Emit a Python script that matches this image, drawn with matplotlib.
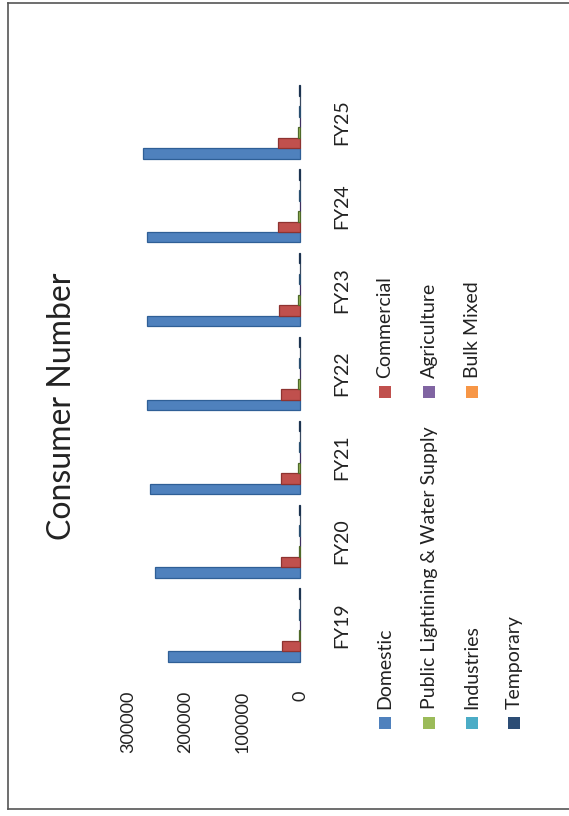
import matplotlib.pyplot as plt
import numpy as np
from matplotlib.lines import Line2D
from matplotlib.patches import Rectangle

plt.rcParams['font.family'] = ['Lato', 'DejaVu Sans']

years = ["FY19", "FY20", "FY21", "FY22", "FY23", "FY24", "FY25"]
domestic = [230000, 253000, 262000, 267000, 267000, 266000, 274000]
commercial = [32000, 34000, 34000, 34000, 37000, 39000, 39000]
public_lighting = [2500, 2600, 2700, 2800, 2900, 3000, 3100]
agriculture = [400, 400, 420, 430, 440, 450, 460]
industries = [2200, 2250, 2300, 2350, 2400, 2450, 2500]
bulk_mixed = [600, 600, 620, 630, 640, 650, 660]
temporary = [2000, 1900, 2100, 2000, 2200, 2100, 2300]

series = [
    ("Domestic", domestic, "#4F81BD", "#2f5f96"),
    ("Commercial", commercial, "#C0504D", "#8e3330"),
    ("Public Lightining & Water Supply", public_lighting, "#9BBB59", "#4f6a2a"),
    ("Agriculture", agriculture, "#8064A2", "#3f3060"),
    ("Industries", industries, "#4BACC6", "#2a4f70"),
    ("Bulk Mixed", bulk_mixed, "#F79646", "#3a4a60"),
    ("Temporary", temporary, "#2C4D75", "#1c3350"),
]

W, H = 569, 816
fig = plt.figure(figsize=(W / 100, H / 100), dpi=100)

def fx(px):
    return px / W

def fy(py):
    return 1 - py / H

# chart is laid on its side: categories run upward, values run leftward
ax = fig.add_axes([fx(128), fy(667), fx(300) - fx(128), fy(80) - fy(667)])
y = np.arange(len(years))
bh = 0.125
for i, (name, vals, col, edge) in enumerate(series):
    off = (i - 3) * bh
    ax.barh(y + off, vals, height=bh, color=col, edgecolor=edge, linewidth=0.9,
            clip_on=False)

ax.set_xlim(300000, 0)
ax.set_ylim(-0.5, len(years) - 0.5)
ax.set_xticks([0, 100000, 200000, 300000])
ax.set_xticklabels(["0", "100000", "200000", "300000"])
ax.set_yticks(y)
ax.set_yticklabels(years)
ax.yaxis.tick_right()
ax.tick_params(axis='x', length=0, pad=17, labelrotation=90, labelsize=13, colors='#222222')
ax.tick_params(axis='y', length=0, pad=30, labelrotation=90, labelsize=14, colors='#222222')
for lab in ax.get_yticklabels():
    lab.set_va('center')
    lab.set_ha('center')
for s in ax.spines.values():
    s.set_visible(False)

fig.text(fx(62), fy(406), "Consumer Number", rotation=90, fontsize=23,
         ha='center', va='center', color='#222222')

# legend, two blocks of rotated entries
legend_pos = [
    (385, 723), (385, 392),
    (429, 723), (429, 392),
    (472, 723), (472, 392),
    (514, 723),
]
sq = 12
for (name, vals, col, edge), (px, py) in zip(series, legend_pos):
    fig.add_artist(Rectangle((fx(px - sq / 2), fy(py + sq / 2)), sq / W, sq / H,
                             transform=fig.transFigure, facecolor=col, edgecolor='none'))
    fig.text(fx(px), fy(py - 14), name, rotation=90, fontsize=14,
             ha='center', va='bottom', color='#222222')

# page frame
frame = dict(color='#555555', linewidth=1.2, transform=fig.transFigure)
fig.add_artist(Line2D([fx(8), fx(8)], [fy(3), fy(809)], **frame))
fig.add_artist(Line2D([fx(8), 1], [fy(3), fy(3)], **frame))
fig.add_artist(Line2D([fx(8), 1], [fy(809), fy(809)], **frame))

fig.savefig("out.png", dpi=100)
